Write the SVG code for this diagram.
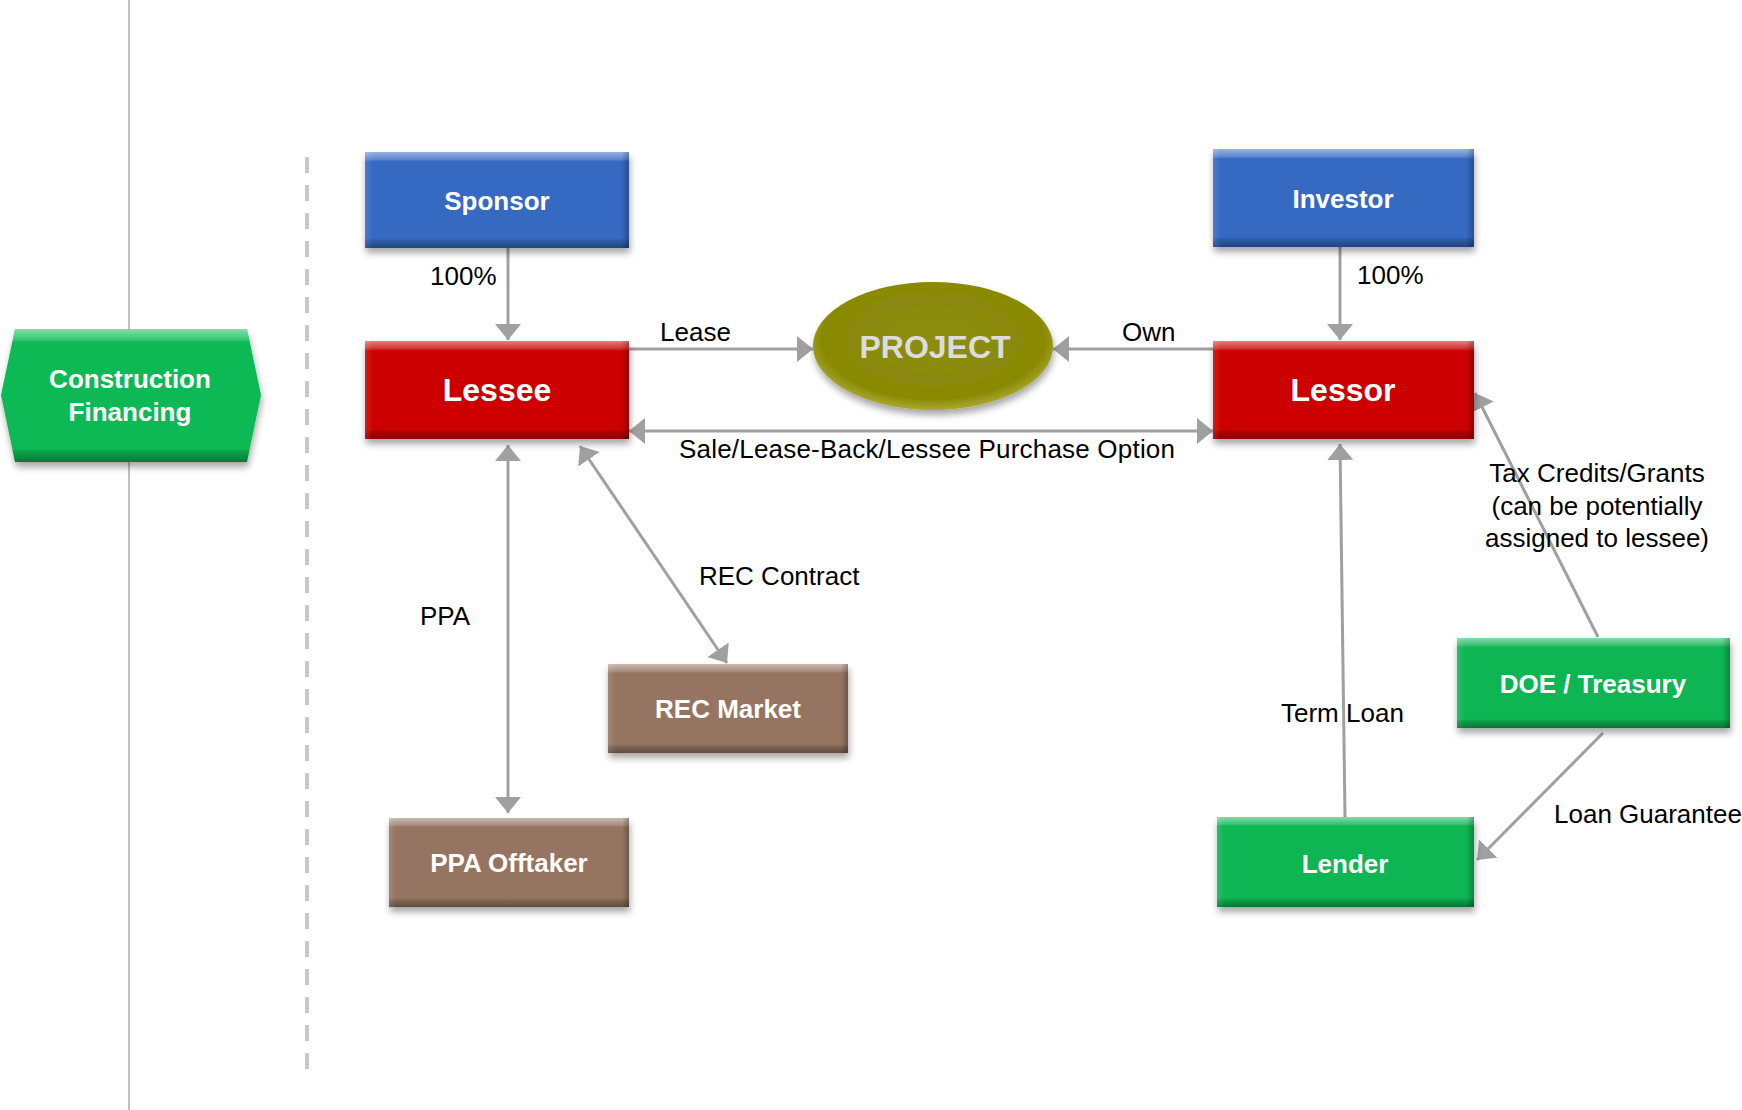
<svg xmlns="http://www.w3.org/2000/svg" width="1742" height="1110" viewBox="0 0 1742 1110">
<style>
.lbl{font-family:"Liberation Sans",Arial,sans-serif;font-size:26px;fill:#000}
.nt{font-family:"Liberation Sans",Arial,sans-serif;font-weight:bold;fill:#fff;text-anchor:middle}
.s26{font-size:26px}
.s32{font-size:32px}
.conn{stroke:#a0a0a0;stroke-width:3;fill:none}
.blue{fill:#3669c2}
.red{fill:#cc0000}
.green{fill:#08b553}
.brown{fill:#957462}
</style>
<defs>
<filter id="sh" x="-10%" y="-10%" width="130%" height="140%">
<feDropShadow dx="1" dy="5" stdDeviation="3.5" flood-color="#000" flood-opacity="0.35"/>
</filter>
<linearGradient id="bevV" x1="0" y1="0" x2="0" y2="1">
<stop offset="0" stop-color="#fff" stop-opacity="0.5"/>
<stop offset="0.08" stop-color="#fff" stop-opacity="0.18"/>
<stop offset="0.1" stop-color="#fff" stop-opacity="0"/>
<stop offset="0.9" stop-color="#000" stop-opacity="0"/>
<stop offset="0.92" stop-color="#000" stop-opacity="0.12"/>
<stop offset="1" stop-color="#000" stop-opacity="0.35"/>
</linearGradient>
<linearGradient id="bevH" x1="0" y1="0" x2="1" y2="0">
<stop offset="0" stop-color="#fff" stop-opacity="0.12"/>
<stop offset="0.03" stop-color="#fff" stop-opacity="0"/>
<stop offset="0.97" stop-color="#000" stop-opacity="0"/>
<stop offset="1" stop-color="#000" stop-opacity="0.25"/>
</linearGradient>
<radialGradient id="olive" cx="0.5" cy="0.45" r="0.55">
<stop offset="0" stop-color="#8c8c08"/>
<stop offset="0.85" stop-color="#8a8a06"/>
<stop offset="1" stop-color="#a9a930"/>
</radialGradient>
<marker id="ah" markerUnits="userSpaceOnUse" markerWidth="17" markerHeight="26" refX="16" refY="13" orient="auto-start-reverse" viewBox="0 0 17 26">
<path d="M0,0 L16,13 L0,26 Z" fill="#a0a0a0"/>
</marker>
</defs>
<rect width="1742" height="1110" fill="#fff"/>

<g id="guides">
<line x1="129" y1="0" x2="129" y2="1110" stroke="#c0c0c0" stroke-width="2"/>
<line x1="307" y1="157" x2="307" y2="1069" stroke="#c8c8c8" stroke-width="4" stroke-dasharray="16 12"/>
</g>

<g id="connectors">
<line class="conn" x1="508" y1="248" x2="508" y2="340" marker-end="url(#ah)"/>
<line class="conn" x1="1340" y1="247" x2="1340" y2="340" marker-end="url(#ah)"/>
<line class="conn" x1="629" y1="349" x2="813" y2="349" marker-end="url(#ah)"/>
<line class="conn" x1="1213" y1="349" x2="1053" y2="349" marker-end="url(#ah)"/>
<line class="conn" x1="629" y1="431" x2="1213" y2="431" marker-start="url(#ah)" marker-end="url(#ah)"/>
<line class="conn" x1="508" y1="445" x2="508" y2="813" marker-start="url(#ah)" marker-end="url(#ah)"/>
<line class="conn" x1="580" y1="446" x2="727" y2="663" marker-start="url(#ah)" marker-end="url(#ah)"/>
<line class="conn" x1="1345" y1="817" x2="1340" y2="444" marker-end="url(#ah)"/>
<line class="conn" x1="1598" y1="637" x2="1475" y2="393" marker-end="url(#ah)"/>
<line class="conn" x1="1603" y1="733" x2="1477" y2="860" marker-end="url(#ah)"/>
</g>

<g id="labels">
<text class="lbl" x="430" y="285">100%</text>
<text class="lbl" x="1357" y="284">100%</text>
<text class="lbl" x="660" y="341">Lease</text>
<text class="lbl" x="1122" y="341">Own</text>
<text class="lbl" x="679" y="458" textLength="496" lengthAdjust="spacing">Sale/Lease-Back/Lessee Purchase Option</text>
<text class="lbl" x="420" y="625">PPA</text>
<text class="lbl" x="699" y="585">REC Contract</text>
<text class="lbl" x="1281" y="722">Term Loan</text>
<text class="lbl" x="1597" y="482" text-anchor="middle">Tax Credits/Grants</text>
<text class="lbl" x="1597" y="515" text-anchor="middle">(can be potentially</text>
<text class="lbl" x="1597" y="547" text-anchor="middle">assigned to lessee)</text>
<text class="lbl" x="1554" y="823">Loan Guarantee</text>
</g>

<g id="construction-financing">
<polygon points="15,329 247,329 261,395 247,462 15,462 1,395" fill="#0bb955" filter="url(#sh)"/>
<polygon points="15,329 247,329 261,395 247,462 15,462 1,395" fill="url(#bevV)"/>
<text class="nt s26" x="130" y="388">Construction</text>
<text class="nt s26" x="130" y="421">Financing</text>
</g>

<g id="sponsor">
<rect x="365" y="152" width="264" height="96" class="blue" filter="url(#sh)"/>
<rect x="365" y="152" width="264" height="96" fill="url(#bevV)"/>
<rect x="365" y="152" width="264" height="96" fill="url(#bevH)"/>
<text class="nt s26" x="497" y="210">Sponsor</text>
</g>

<g id="investor">
<rect x="1213" y="149" width="261" height="98" class="blue" filter="url(#sh)"/>
<rect x="1213" y="149" width="261" height="98" fill="url(#bevV)"/>
<rect x="1213" y="149" width="261" height="98" fill="url(#bevH)"/>
<text class="nt s26" x="1343" y="208">Investor</text>
</g>

<g id="lessee">
<rect x="365" y="341" width="264" height="98" class="red" filter="url(#sh)"/>
<rect x="365" y="341" width="264" height="98" fill="url(#bevV)"/>
<rect x="365" y="341" width="264" height="98" fill="url(#bevH)"/>
<text class="nt s32" x="497" y="401">Lessee</text>
</g>

<g id="lessor">
<rect x="1213" y="341" width="261" height="98" class="red" filter="url(#sh)"/>
<rect x="1213" y="341" width="261" height="98" fill="url(#bevV)"/>
<rect x="1213" y="341" width="261" height="98" fill="url(#bevH)"/>
<text class="nt s32" x="1343" y="401">Lessor</text>
</g>

<g id="project">
<ellipse cx="933" cy="346" rx="120" ry="64" fill="url(#olive)" filter="url(#sh)"/>
<text class="nt s32" x="935" y="358" style="fill:#dcdcdc">PROJECT</text>
</g>

<g id="rec-market">
<rect x="608" y="664" width="240" height="89" class="brown" filter="url(#sh)"/>
<rect x="608" y="664" width="240" height="89" fill="url(#bevV)"/>
<rect x="608" y="664" width="240" height="89" fill="url(#bevH)"/>
<text class="nt s26" x="728" y="718">REC Market</text>
</g>

<g id="ppa-offtaker">
<rect x="389" y="818" width="240" height="89" class="brown" filter="url(#sh)"/>
<rect x="389" y="818" width="240" height="89" fill="url(#bevV)"/>
<rect x="389" y="818" width="240" height="89" fill="url(#bevH)"/>
<text class="nt s26" x="509" y="872">PPA Offtaker</text>
</g>

<g id="doe-treasury">
<rect x="1457" y="638" width="273" height="90" class="green" filter="url(#sh)"/>
<rect x="1457" y="638" width="273" height="90" fill="url(#bevV)"/>
<rect x="1457" y="638" width="273" height="90" fill="url(#bevH)"/>
<text class="nt s26" x="1593" y="693">DOE / Treasury</text>
</g>

<g id="lender">
<rect x="1217" y="817" width="257" height="90" class="green" filter="url(#sh)"/>
<rect x="1217" y="817" width="257" height="90" fill="url(#bevV)"/>
<rect x="1217" y="817" width="257" height="90" fill="url(#bevH)"/>
<text class="nt s26" x="1345" y="873">Lender</text>
</g>
</svg>
